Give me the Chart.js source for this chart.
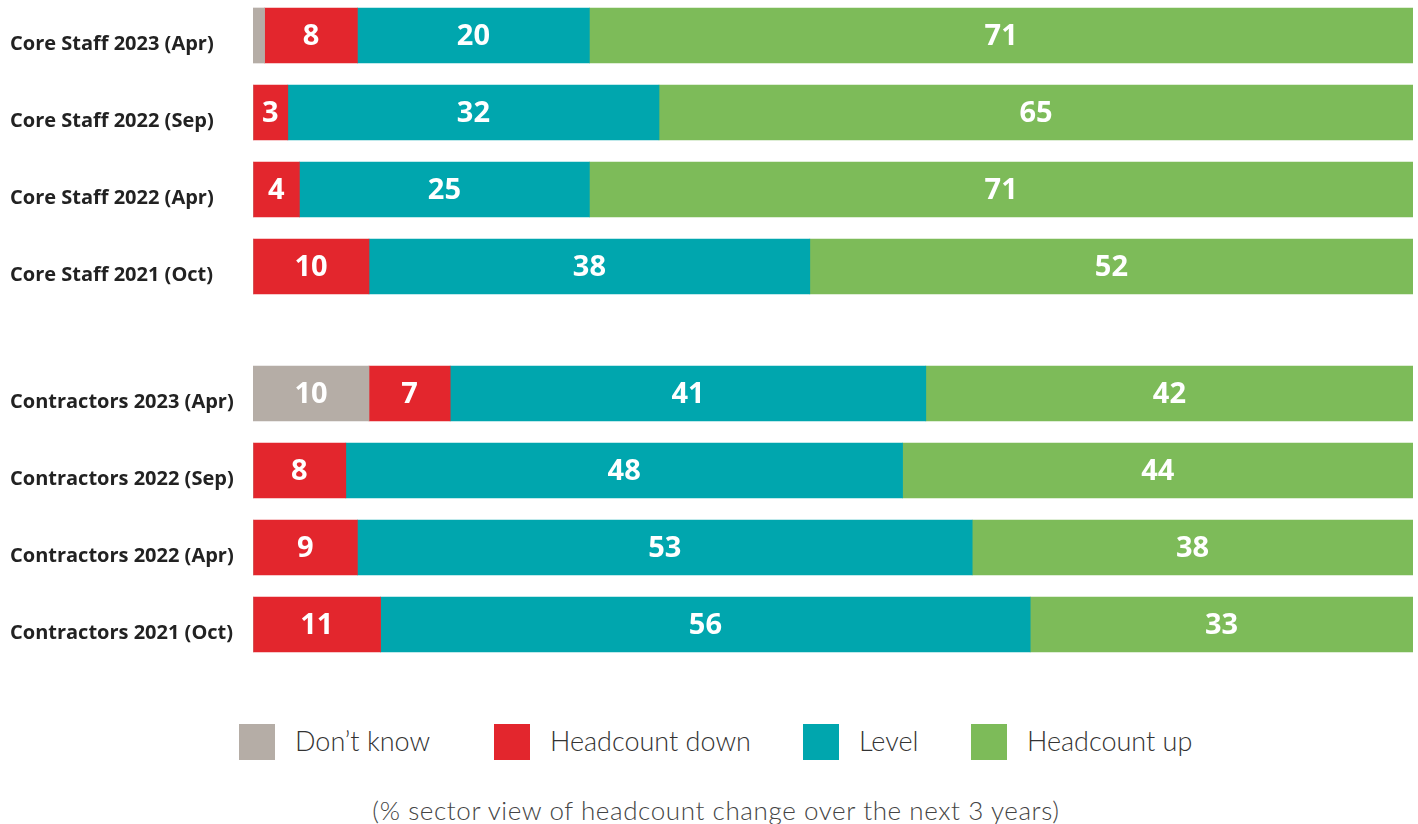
<!DOCTYPE html>
<html>
<head>
<meta charset="utf-8">
<script src="https://cdn.jsdelivr.net/npm/chart.js@4.4.0/dist/chart.umd.min.js"></script>
<style>
    html, body { margin: 0; padding: 0; background: #fff; }
    body { width: 1418px; height: 824px; position: relative; overflow: hidden; font-family: Lato, 'Open Sans', sans-serif; }
    .chart-box { position: absolute; left: 0; width: 1418px; height: 308px; }
    .legend-item { position: absolute; top: 724px; height: 36px; display: flex; align-items: center; }
    .legend-swatch { width: 36px; height: 36px; margin-right: 20px; }
    .legend-text { font-family: Lato, sans-serif; font-weight: 300; font-size: 27px; color: #333; position: relative; top: -2px; }
    .note { position: absolute; left: 0; width: 1432px; top: 794px; text-align: center;
            font-family: Lato, sans-serif; font-weight: 300; font-size: 26px; letter-spacing: 0.6px; color: #444; }
</style>
</head>
<body>
<div class="chart-box" style="top:-3px"><canvas id="coreChart"></canvas></div>
<div class="chart-box" style="top:355px"><canvas id="contractorChart"></canvas></div>
<div id="legend"></div>
<div class="note">(% sector view of headcount change over the next 3 years)</div>

<script>
// Survey results, % of respondents per answer
const coreLabels = ['Core Staff 2023 (Apr)', 'Core Staff 2022 (Sep)', 'Core Staff 2022 (Apr)', 'Core Staff 2021 (Oct)'];
const coreDontKnow = [1, 0, 0, 0];
const coreDown = [8, 3, 4, 10];
const coreLevel = [20, 32, 25, 38];
const coreUp = [71, 65, 71, 52];

const contractorLabels = ['Contractors 2023 (Apr)', 'Contractors 2022 (Sep)', 'Contractors 2022 (Apr)', 'Contractors 2021 (Oct)'];
const contractorDontKnow = [10, 0, 0, 0];
const contractorDown = [7, 8, 9, 11];
const contractorLevel = [41, 48, 53, 56];
const contractorUp = [42, 44, 38, 33];

const seriesNames = ["Don\u2019t know", 'Headcount down', 'Level', 'Headcount up'];
const seriesColors = ['#b5ada6', '#e3262d', '#00a6ae', '#7dbb59'];

// Write the value in the middle of each segment (tiny ones are left blank)
const segmentLabels = {
    id: 'segmentLabels',
    afterDatasetsDraw(chart) {
        const ctx = chart.ctx;
        ctx.save();
        ctx.fillStyle = '#ffffff';
        ctx.font = 'bold 29px "Open Sans", sans-serif';
        ctx.textAlign = 'center';
        ctx.textBaseline = 'middle';
        chart.data.datasets.forEach((ds, i) => {
            const meta = chart.getDatasetMeta(i);
            meta.data.forEach((bar, j) => {
                const v = ds.data[j];
                if (v < 2) return;
                ctx.fillText(String(v), (bar.x + bar.base) / 2, bar.y + 1);
            });
        });
        ctx.restore();
    }
};

function createStackedChart(canvasId, labels, series) {
    const ctx = document.getElementById(canvasId).getContext('2d');
    const datasets = series.map((values, i) => ({
        label: seriesNames[i],
        data: values,
        backgroundColor: seriesColors[i],
        borderWidth: 0,
        barThickness: 55
    }));

    return new Chart(ctx, {
        type: 'bar',
        data: { labels: labels, datasets: datasets },
        options: {
            indexAxis: 'y',
            responsive: true,
            maintainAspectRatio: false,
            animation: false,
            layout: { padding: { left: 10, right: 5, top: 0, bottom: 0 } },
            plugins: {
                legend: { display: false },
                tooltip: { enabled: false }
            },
            scales: {
                x: {
                    stacked: true,
                    min: 0,
                    max: 100,
                    display: false
                },
                y: {
                    stacked: true,
                    grid: { display: false },
                    border: { display: false },
                    afterFit: scale => {
                        scale.width = 243;
                        // rows fill the full height, labels never reach the edges
                        scale.paddingTop = 0;
                        scale.paddingBottom = 0;
                    },
                    ticks: {
                        crossAlign: 'far',
                        labelOffset: 9,
                        color: '#222',
                        font: { family: '"Open Sans", sans-serif', weight: 'bold', size: 20 }
                    }
                }
            }
        },
        plugins: [segmentLabels]
    });
}

createStackedChart('coreChart', coreLabels, [coreDontKnow, coreDown, coreLevel, coreUp]);
createStackedChart('contractorChart', contractorLabels, [contractorDontKnow, contractorDown, contractorLevel, contractorUp]);

// Legend below both charts
const legendLeft = [239, 494, 803, 971];
const legend = document.getElementById('legend');
seriesNames.forEach((name, i) => {
    const item = document.createElement('div');
    item.className = 'legend-item';
    item.style.left = legendLeft[i] + 'px';
    item.innerHTML = '<div class="legend-swatch" style="background:' + seriesColors[i] + '"></div>' +
        '<span class="legend-text">' + name + '</span>';
    legend.appendChild(item);
});
</script>
</body>
</html>
